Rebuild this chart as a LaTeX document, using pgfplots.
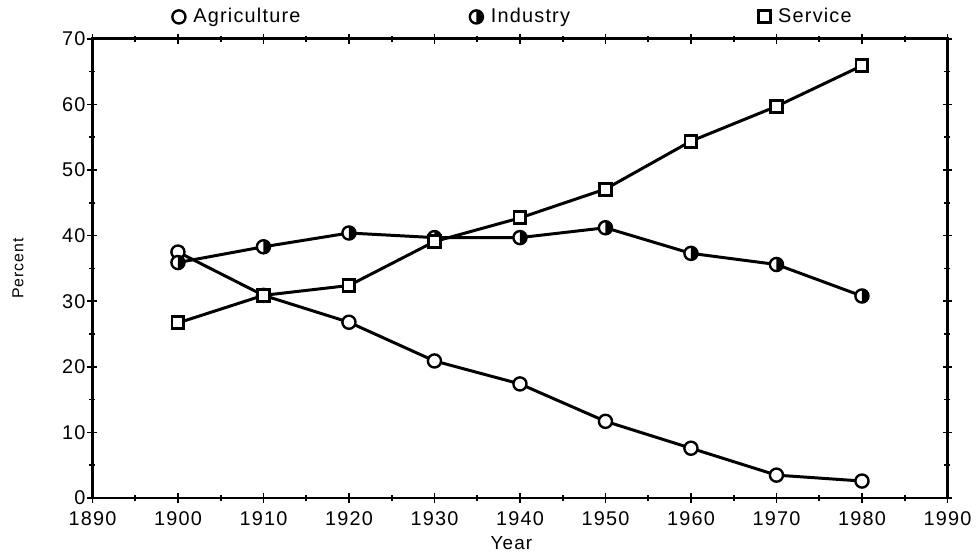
\documentclass[border=0pt]{standalone}
\usepackage{fontspec}
\setmainfont{Liberation Sans}
\newfontfamily\lsfont{Liberation Sans}[LetterSpace=6]
\usepackage{pgfplots}
\pgfplotsset{compat=1.18}

\pgfdeclareplotmark{halfright}{%
  \pgfpathcircle{\pgfpointorigin}{\pgfplotmarksize}%
  \pgfsetfillcolor{white}%
  \pgfusepathqfillstroke
  \pgfpathmoveto{\pgfqpoint{0pt}{\pgfplotmarksize}}%
  \pgfpatharc{90}{-90}{\pgfplotmarksize}%
  \pgfpathclose
  \pgfsetfillcolor{black}%
  \pgfusepathqfill
}

\begin{document}
\begin{tikzpicture}
\path (-46.5pt,-25.5pt) rectangle (442.5pt,250.5pt);
\begin{axis}[
  name=ax,
  scale only axis, width=430pt, height=231pt,
  xmin=1890, xmax=1990, ymin=0, ymax=70,
  xtick={1890,1900,...,1990}, ytick={0,10,...,70},
  minor x tick num=1, minor y tick num=1,
  tick align=center, major tick length=5pt, minor tick length=3pt,
  axis line style={line width=1.3pt},
  tick style={black, line width=0.8pt},
  x tick label style={/pgf/number format/1000 sep={}, yshift=-1pt},
  y tick label style={xshift=2.5pt},
  /pgf/number format/assume math mode=true,
  tick label style={font=\lsfont\fontsize{10}{12}\selectfont},
  xlabel={Year}, ylabel={Percent},
  xlabel style={font=\lsfont\fontsize{9.5}{11}\selectfont, at={(axis description cs:0.49,0)}, anchor=north, yshift=-16pt},
  ylabel style={font=\lsfont\fontsize{8}{10}\selectfont, at={(axis description cs:-0.0872,0.5)}, anchor=center},
  legend columns=3,
  legend style={draw=none, fill=none, at={(axis description cs:0.093,1.0476)}, anchor=west,
    font=\lsfont\fontsize{10}{12}\selectfont, inner sep=0pt},
  legend image code/.code={\draw[#1, only marks] plot coordinates {(0.15cm,0cm)};},
  /tikz/every even column/.style={column sep=0pt},
]
\addplot[black, line width=1.5pt, mark=*, mark size=3.3pt, mark options={fill=white, line width=1.2pt}]
  coordinates {(1900,37.5) (1910,30.9) (1920,26.8) (1930,20.9) (1940,17.4) (1950,11.7) (1960,7.6) (1970,3.5) (1980,2.6)};
\addlegendentry{\hspace{2pt}\makebox[137pt][l]{Agriculture}}
\addplot[black, line width=1.5pt, mark=halfright, mark size=3.3pt, mark options={line width=1.2pt}]
  coordinates {(1900,35.9) (1910,38.3) (1920,40.4) (1930,39.7) (1940,39.7) (1950,41.2) (1960,37.3) (1970,35.6) (1980,30.8)};
\addlegendentry{\hspace{2pt}\makebox[132.5pt][l]{Industry}}
\addplot[black, line width=1.5pt, mark=square*, mark size=3pt, mark options={fill=white, line width=1.5pt}]
  coordinates {(1900,26.7) (1910,30.9) (1920,32.4) (1930,39.1) (1940,42.7) (1950,47.1) (1960,54.4) (1970,59.7) (1980,65.9)};
\addlegendentry{\hspace{2pt}Service}
\end{axis}
\end{tikzpicture}
\end{document}
